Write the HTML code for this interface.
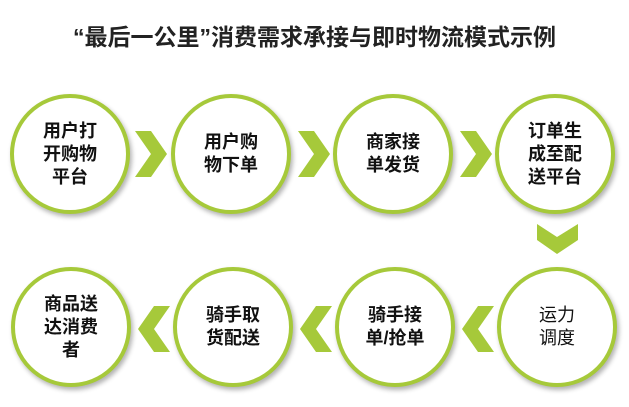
<!DOCTYPE html>
<html><head><meta charset="utf-8"><style>
body{margin:0;width:629px;height:407px;background:#fff;position:relative;overflow:hidden;font-family:"Liberation Sans","Noto Sans CJK SC",sans-serif}
.t{position:absolute;left:0;width:629px;top:18px;text-align:center;font-size:23px;font-weight:bold;color:#222}
.c{position:absolute;width:112px;height:112px;border:4px solid #a6c93a;border-radius:50%;background:#fff;box-shadow:2px 3px 5px rgba(0,0,0,.3);display:flex;align-items:center;justify-content:center;text-align:center;font-size:18px;font-weight:bold;line-height:23px;color:#111}
svg{position:absolute;left:0;top:0}
</style></head><body>
<div class="t">“最后一公里”消费需求承接与即时物流模式示例</div>
<svg width="629" height="407">
<g fill="#a6c93a">
<polygon points="135,131 151,131 167,154 151,177 135,177 151,154"/>
<polygon points="298,131 314,131 330,154 314,177 298,177 314,154"/>
<polygon points="460,131 476,131 492,154 476,177 460,177 476,154"/>
<polygon points="537,224 537,240 557,254 578,240 578,224 557,237"/>
<polygon points="494,306 478,306 462,329 478,352 494,352 478,329"/>
<polygon points="332,306 316,306 300,329 316,352 332,352 316,329"/>
<polygon points="170,306 154,306 138,329 154,352 170,352 154,329"/>
</g></svg>
<div class="c" style="left:10px;top:94px">用户打<br>开购物<br>平台</div>
<div class="c" style="left:171px;top:94px">用户购<br>物下单</div>
<div class="c" style="left:333px;top:94px">商家接<br>单发货</div>
<div class="c" style="left:495px;top:94px">订单生<br>成至配<br>送平台</div>
<div class="c" style="left:497px;top:267px;font-weight:normal">运力<br>调度</div>
<div class="c" style="left:335px;top:267px">骑手接<br>单/抢单</div>
<div class="c" style="left:173px;top:267px">骑手取<br>货配送</div>
<div class="c" style="left:11px;top:267px">商品送<br>达消费<br>者</div>
</body></html>
